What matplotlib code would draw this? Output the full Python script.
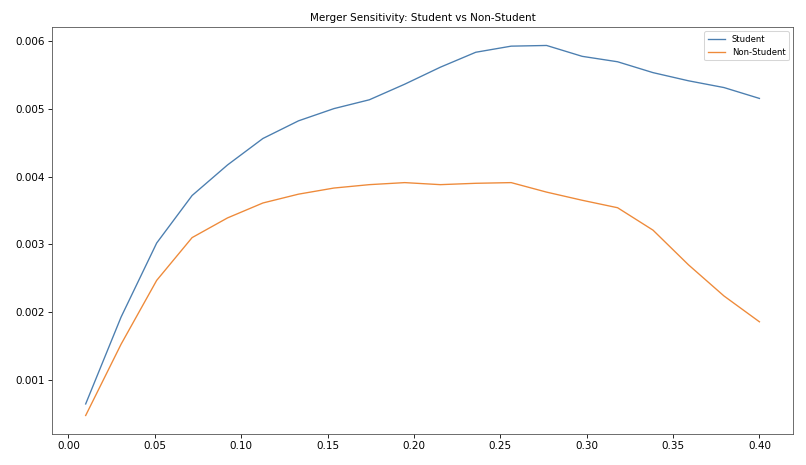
import matplotlib
matplotlib.use("Agg")
import matplotlib.pyplot as plt

x_values = [0.010, 0.0305, 0.0511, 0.0716, 0.0921, 0.1126, 0.1332, 0.1537,
            0.1742, 0.1947, 0.2153, 0.2358, 0.2563, 0.2768, 0.2974, 0.3179,
            0.3384, 0.3589, 0.3795, 0.400]
student = [0.00065, 0.00193, 0.00302, 0.00372, 0.00417, 0.00456, 0.00482, 0.00500,
           0.00513, 0.00536, 0.00561, 0.00583, 0.00592, 0.00593, 0.00577, 0.00569,
           0.00553, 0.00541, 0.00531, 0.00515]
non_student = [0.00048, 0.00153, 0.00247, 0.00310, 0.00339, 0.00361, 0.00374, 0.00383,
               0.00388, 0.00391, 0.00388, 0.00390, 0.00391, 0.00377, 0.00365, 0.00354,
               0.00321, 0.00270, 0.00224, 0.00186]

fig = plt.figure(figsize=(806/75, 465/75), dpi=75)
ax = fig.add_axes([0.0645, 0.0667, 0.9195, 0.8753])
ax.plot(x_values, student, color="#4c7fb0", label="Student", linewidth=1.3)
ax.plot(x_values, non_student, color="#ee8a3a", label="Non-Student", linewidth=1.3)
ax.set_title("Merger Sensitivity: Student vs Non-Student", fontsize=10)
ax.set_xticks([0.00, 0.05, 0.10, 0.15, 0.20, 0.25, 0.30, 0.35, 0.40])
ax.legend(loc="upper right", fontsize=8.2)
for s in ax.spines.values():
    s.set_color("#555555")
fig.savefig("out.png", dpi=75)
